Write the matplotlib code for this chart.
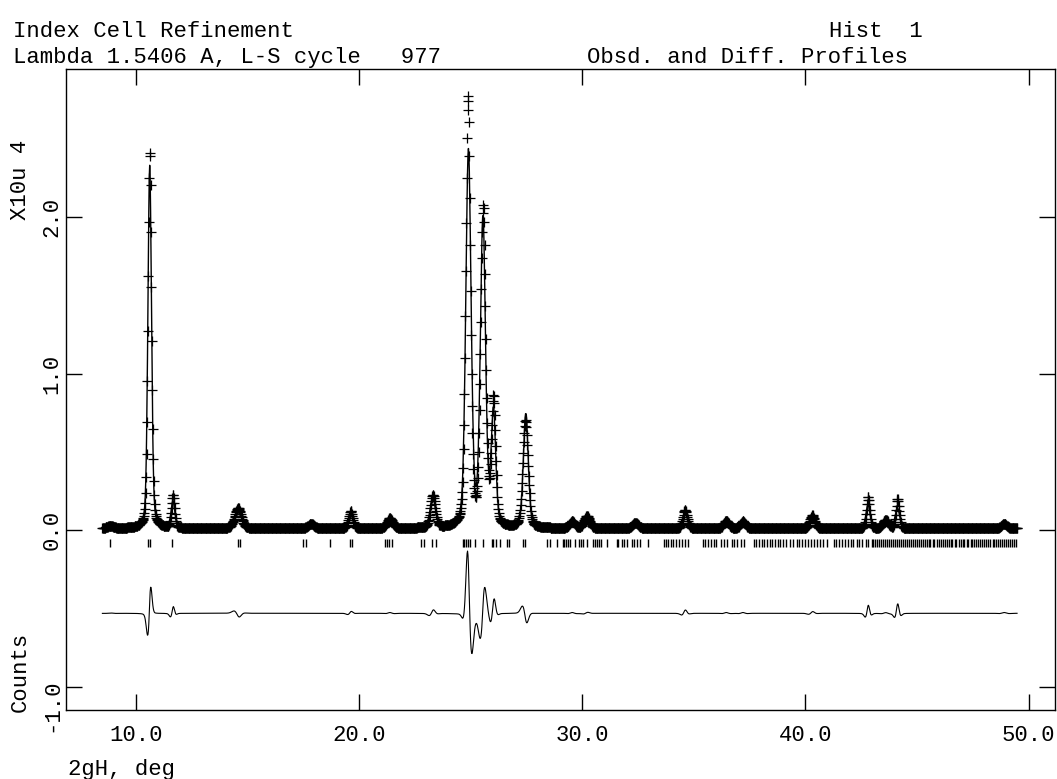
import numpy as np
import matplotlib
matplotlib.use('Agg')
import matplotlib.pyplot as plt
from matplotlib import transforms

plt.rcParams['font.family'] = 'Liberation Mono'
plt.rcParams['font.size'] = 16

# peak table: 2theta position, calc / obs heights (x10^4 counts), FWHM, obs offset
peak_pos = [8.86, 10.62, 11.66, 14.60, 17.85, 19.62, 21.38, 23.30, 24.90, 25.55,
            26.02, 27.47, 29.55, 30.20, 32.38, 34.60, 36.45, 37.20, 40.30, 42.80,
            43.60, 44.12, 48.90]
peak_calc = [0.012, 2.32, 0.17, 0.15, 0.03, 0.10, 0.06, 0.19, 2.40, 1.96,
             0.72, 0.73, 0.04, 0.075, 0.035, 0.10, 0.045, 0.04, 0.075, 0.15,
             0.05, 0.13, 0.025]
peak_obs = [0.014, 2.41, 0.21, 0.13, 0.03, 0.11, 0.065, 0.21, 2.74, 2.03,
            0.80, 0.69, 0.045, 0.08, 0.035, 0.12, 0.05, 0.045, 0.085, 0.20,
            0.055, 0.19, 0.03]
peak_fwhm = [0.40, 0.19, 0.20, 0.30, 0.30, 0.24, 0.30, 0.28, 0.28, 0.27,
             0.24, 0.26, 0.30, 0.30, 0.30, 0.26, 0.30, 0.30, 0.28, 0.22,
             0.30, 0.24, 0.35]
obs_shift = [0.0, 0.008, 0.010, -0.020, 0.0, 0.010, 0.0, 0.010, -0.015, 0.015,
             0.010, -0.012, 0.0, 0.010, 0.0, 0.010, 0.0, 0.0, 0.010, 0.010,
             0.0, 0.010, 0.0]
background = 0.010

# reflection positions (deg)
refl_pos = [8.86, 10.55, 10.62, 11.64, 14.57, 14.66, 17.50, 17.64, 18.70, 19.58,
            19.68, 21.18, 21.26, 21.36, 21.46, 22.76, 22.92, 23.28, 23.44,
            24.65, 24.72, 24.79, 24.87, 24.97, 25.18, 25.54, 25.94, 26.02, 26.12,
            26.30, 26.62, 26.73, 27.33, 27.45, 28.41, 28.55, 28.85, 29.14, 29.20,
            29.27, 29.38, 29.45, 29.66, 29.85, 29.95, 30.03, 30.20, 30.48, 30.58,
            30.66, 30.76, 30.84, 31.09, 31.55, 31.62, 31.78, 31.86, 32.00, 32.22,
            32.30, 32.45, 32.58, 32.94,
            33.64, 33.75, 33.86, 33.98, 34.08, 34.20, 34.33, 34.45, 34.60, 34.72,
            35.41, 35.50, 35.62, 35.75, 35.88, 36.00, 36.20, 36.35, 36.48, 36.70,
            36.82, 36.95, 37.10, 37.26,
            37.70, 37.80, 37.92, 38.05, 38.15, 38.28, 38.40, 38.50, 38.62, 38.75,
            38.88, 39.00, 39.15, 39.30,
            39.45, 39.60, 39.72, 39.85, 40.00, 40.12, 40.25, 40.38, 40.50, 40.65,
            40.80, 40.95,
            41.26, 41.38, 41.50, 41.62, 41.75, 41.90, 42.02, 42.15, 42.30, 42.42,
            42.55, 42.70, 42.82, 42.97,
            43.04, 43.12, 43.21, 43.30, 43.38, 43.47, 43.55, 43.66, 43.74, 43.83,
            43.92, 44.02, 44.10, 44.20, 44.28, 44.36, 44.46, 44.55, 44.63, 44.72,
            44.80, 44.90, 44.98, 45.08, 45.16, 45.25, 45.35, 45.44, 45.52, 45.60,
            45.70, 45.78, 45.88, 45.97, 46.06, 46.14, 46.24, 46.32, 46.42, 46.50,
            46.58, 46.68, 46.76, 46.86, 46.95, 47.04, 47.12, 47.22, 47.30, 47.40,
            47.48, 47.56, 47.66, 47.75, 47.84, 47.92, 48.02, 48.10, 48.20, 48.28,
            48.38, 48.46, 48.55, 48.64, 48.72, 48.82, 48.90, 49.00, 49.08, 49.18,
            49.26, 49.36, 49.44]

x_ticks = [10.0, 20.0, 30.0, 40.0, 50.0]
y_ticks = [-1.0, 0.0, 1.0, 2.0]
diff_offset = -0.532

tth = np.arange(8.50, 49.50, 0.02)


def pseudo_voigt(x, pos, h, w, eta=0.3):
    d2 = 4.0 * (x - pos) ** 2 / w ** 2
    return h * (eta / (1.0 + d2) + (1.0 - eta) * np.exp(-np.log(2) * d2))


calc = np.full_like(tth, background)
obs = np.full_like(tth, background)
for p, hc, ho, w, s in zip(peak_pos, peak_calc, peak_obs, peak_fwhm, obs_shift):
    calc += pseudo_voigt(tth, p, hc, w)
    # observed peak keeps roughly the same area as the calculated one
    obs += pseudo_voigt(tth, p + s, ho, w * hc / ho)
diff = obs - calc

W, H = 1057, 779
fig = plt.figure(figsize=(W / 100, H / 100), dpi=100)
ax = fig.add_axes([66 / W, 69 / H, 989 / W, 641 / H])

ax.plot(tth, calc, color='black', lw=1.0)
ax.plot(tth, obs, '+', color='black', ms=6.5, mew=0.9)
ax.vlines(refl_pos, -0.055, -0.11, color='black', lw=1.0)
ax.plot(tth, diff + diff_offset, color='black', lw=0.8)

ax.set_xlim(6.87, 51.18)
ax.set_ylim(-1.150, 2.946)
ax.set_xticks(x_ticks)
ax.set_xticklabels(['%.1f' % v for v in x_ticks])
ax.set_yticks(y_ticks)
ax.tick_params(direction='in', length=11.5, width=1.0, top=True, right=True,
               labelleft=False, pad=11)
for sp in ax.spines.values():
    sp.set_linewidth(1.0)

# rotated y labels next to the left axis
trans = transforms.blended_transform_factory(fig.transFigure, ax.transData)
for v in y_ticks:
    t = trans
    if v < 0:
        t = transforms.offset_copy(trans, fig=fig, y=-19, units='dots')
    ax.text(52 / W, v, '%.1f' % v, transform=t, rotation=90,
            ha='center', va='center')

fig.text(20 / W, 1 - 180 / H, 'X10u 4', rotation=90, ha='center', va='center')
fig.text(20 / W, 1 - 672 / H, 'Counts', rotation=90, ha='center', va='center')
fig.text(68 / W, 1 - 769 / H, '2gH, deg', ha='left', va='center')

fig.text(13 / W, 1 - 37 / H, 'Index Cell Refinement', va='baseline')
fig.text(829 / W, 1 - 37 / H, 'Hist  1', va='baseline')
fig.text(13 / W, 1 - 63 / H, 'Lambda 1.5406 A, L-S cycle   977', va='baseline')
fig.text(587 / W, 1 - 63 / H, 'Obsd. and Diff. Profiles', va='baseline')

fig.savefig('out.png', dpi=100)
